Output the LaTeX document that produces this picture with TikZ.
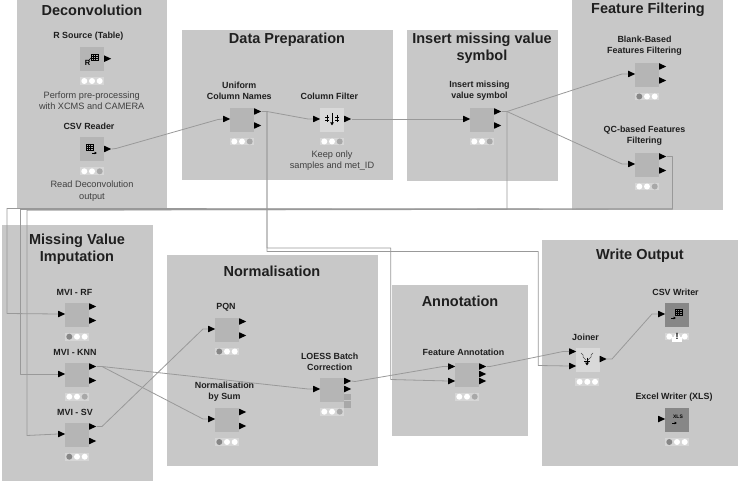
\documentclass[tikz,border=0pt]{standalone}
\usepackage{fontspec}
\setmainfont{Liberation Sans}
\usetikzlibrary{shapes.geometric,arrows.meta}
\definecolor{grp}{gray}{0.785}
\definecolor{boxc}{gray}{0.71}
\definecolor{boxl}{gray}{0.85}
\definecolor{boxd}{gray}{0.53}
\definecolor{stripc}{gray}{0.84}
\definecolor{offr}{gray}{0.53}
\definecolor{offy}{gray}{0.66}
\definecolor{conn}{gray}{0.60}
\definecolor{txt}{gray}{0.12}
\definecolor{notec}{gray}{0.25}
\tikzset{
  group/.style={fill=grp,draw=none},
  grouptitle/.style={font=\fontsize{14.5}{16.6}\selectfont\bfseries,text=txt,align=center,inner sep=0pt},
  nlabel/.style={font=\fontsize{8.9}{11.3}\selectfont\bfseries,text=txt,align=center,inner sep=0pt},
  note/.style={font=\fontsize{9.2}{11.3}\selectfont,text=notec,align=center,inner sep=0pt},
  port/.style={isosceles triangle,isosceles triangle stretches,shape border rotate=0,fill=black,draw=none,inner sep=0pt,minimum height=7pt,minimum width=6.5pt,anchor=lower side},
  knodebox/.style={draw=none,inner sep=0pt,minimum width=24pt,minimum height=24pt,anchor=north west},
  wire/.style={draw=conn,line width=0.8pt,line join=round},
}
% \knode{name}{x}{y}{fill}{colour 1}{colour 2}{colour 3}
\newcommand{\knode}[7]{%
  \node[knodebox,fill=#4] (#1) at (#2,#3) {};
  \fill[stripc] (#2,#3+30.2) rectangle (#2+24,#3+37.8);
  \fill[#5] (#2+4.3,#3+34) circle (3);
  \fill[#6] (#2+12,#3+34) circle (3);
  \fill[#7] (#2+19.7,#3+34) circle (3);
}
\newcommand{\grid}[2]{%
  \draw[line width=0.5pt,black] (#1,#2) rectangle (#1+7,#2+6)
    (#1,#2+2) -- (#1+7,#2+2) (#1,#2+4) -- (#1+7,#2+4)
    (#1+2.3,#2) -- (#1+2.3,#2+6) (#1+4.6,#2) -- (#1+4.6,#2+6);
}
\newcommand{\smallarrow}[2]{%
  \draw[line width=0.8pt,-{Latex[length=2.5pt,width=3pt]}] (#1,#2) -- (#1+5,#2);
}
\begin{document}
\begin{tikzpicture}[x=1pt,y=-1pt]
\useasboundingbox (0,0) rectangle (738,481);
\fill[white] (0,0) rectangle (738,481);
% groups
\fill[group] (17,0) rectangle (167,209);
\fill[group] (182,30) rectangle (393,180);
\fill[group] (407,30) rectangle (558,181);
\fill[group] (572,0) rectangle (723,210);
\fill[group] (2,225) rectangle (152.5,481);
\fill[group] (167,255) rectangle (377.5,466);
\fill[group] (392,285) rectangle (528,436);
\fill[group] (542,240) rectangle (738,466);
% group titles
\node[grouptitle] (t1) at (92,10) {Deconvolution};
\node[grouptitle] (t2) at (287,40) {Data Preparation};
\node[grouptitle] (t3) at (482,48) {Insert missing value\\symbol};
\node[grouptitle] (t4) at (648,10) {Feature Filtering};
\node[grouptitle] (t5) at (77,249.5) {Missing Value\\Imputation};
\node[grouptitle] (t6) at (272,271) {Normalisation};
\node[grouptitle] (t7) at (460,301) {Annotation};
\node[grouptitle] (t8) at (640,256) {Write Output};
% knodes
\knode{rsrc}{80}{47}{boxc}{white}{white}{white}
\knode{csvr}{80}{137.3}{boxc}{white}{white}{offy}
\knode{unif}{230}{107.5}{boxc}{white}{white}{offy}
\knode{colf}{320}{107.5}{boxl}{white}{white}{offy}
\knode{insm}{470}{107.5}{boxc}{white}{white}{offy}
\knode{blnk}{635}{62.5}{boxc}{offr}{white}{white}
\knode{qcfl}{635}{152.5}{boxc}{white}{white}{offy}
\knode{mvrf}{65}{302.7}{boxc}{offr}{white}{white}
\knode{mknn}{65}{362.7}{boxc}{white}{white}{offy}
\knode{mvsv}{65}{422.7}{boxc}{offr}{white}{white}
\knode{pqn}{215}{317.5}{boxc}{offr}{white}{white}
\knode{nsum}{215}{408}{boxc}{offr}{white}{white}
\knode{loes}{320}{377.7}{boxc}{white}{white}{offy}
\knode{fann}{455}{362.7}{boxc}{white}{white}{offy}
\knode{join}{575.3}{347.8}{boxl}{white}{white}{white}
\knode{cwrt}{665}{302.5}{boxd}{white}{white}{white}
\knode{xwrt}{665}{408}{boxd}{offr}{white}{white}
% LOESS extra ports
\fill[offy] (344,393.5) rectangle (351,400);
\fill[offy] (344,401) rectangle (351,408);
% warning mark on CSV Writer
\fill[white] (672,337) rectangle (682,342);
\node[inner sep=0pt,font=\fontsize{9}{9}\selectfont\bfseries] (warn) at (677,336.5) {!};
% ports
\node[port] (rsrcO) at (104,58.7) {};
\node[port] (csvrO) at (104,149) {};
\node[port] (unifI) at (223,119) {};
\node[port] (unifA) at (254,111.5) {};
\node[port] (unifB) at (254,125.5) {};
\node[port] (colfI) at (313,119) {};
\node[port] (colfO) at (344,119) {};
\node[port] (insmI) at (463,119) {};
\node[port] (insmA) at (494,111.5) {};
\node[port] (insmB) at (494,125.5) {};
\node[port] (blnkI) at (628,74) {};
\node[port] (blnkA) at (659,66.5) {};
\node[port] (blnkB) at (659,80.5) {};
\node[port] (qcflI) at (628,164) {};
\node[port] (qcflA) at (659,156.5) {};
\node[port] (qcflB) at (659,170.5) {};
\node[port] (mvrfI) at (58,314) {};
\node[port] (mvrfA) at (89,306.5) {};
\node[port] (mvrfB) at (89,320.5) {};
\node[port] (mknnI) at (58,374) {};
\node[port] (mknnA) at (89,366.5) {};
\node[port] (mknnB) at (89,380.5) {};
\node[port] (mvsvI) at (58,434) {};
\node[port] (mvsvA) at (89,426.5) {};
\node[port] (mvsvB) at (89,441) {};
\node[port] (pqnI) at (208,329) {};
\node[port] (pqnA) at (239,321.5) {};
\node[port] (pqnB) at (239,335.5) {};
\node[port] (nsumI) at (208,419) {};
\node[port] (nsumA) at (239,412) {};
\node[port] (nsumB) at (239,426) {};
\node[port] (loesI) at (313,389) {};
\node[port] (loesA) at (344,381) {};
\node[port] (loesB) at (344,389) {};
\node[port] (fannI) at (448,366.5) {};
\node[port] (fannJ) at (448,381) {};
\node[port] (fannA) at (479,366.5) {};
\node[port] (fannB) at (479,374) {};
\node[port] (fannC) at (479,381) {};
\node[port] (joinI) at (569,351.5) {};
\node[port] (joinJ) at (569,366) {};
\node[port] (joinO) at (599.5,359) {};
\node[port] (cwrtI) at (658,314) {};
\node[port] (xwrtI) at (658,419) {};
% icons
\grid{91}{54}
\draw[line width=0.6pt] (88,61) -- (91,58);
\node[inner sep=0pt,font=\fontsize{7.5}{7.5}\selectfont\bfseries] (rglyph) at (87.5,63) {R};
\grid{86}{144}
\smallarrow{92}{153}
\grid{675}{309}
\smallarrow{671}{318}
\node[inner sep=0pt,font=\fontsize{5}{5}\selectfont\bfseries] (xls) at (678,417) {XLS};
\smallarrow{672}{423}
% column filter icon
\draw[line width=0.7pt] (327,115) -- (327,122) (325,117) -- (329,117) (325,120) -- (329,120)
  (337,115) -- (337,122) (335,117) -- (339,117) (335,120) -- (339,120);
\draw[line width=0.9pt,-{Latex[length=3pt,width=4pt]}] (332,113) -- (332,125.5);
% joiner icon
\draw[line width=0.5pt,black!70] (581,353) -- (583,355) -- (583,357) -- (586,360)
  (593,353) -- (591,355) -- (591,357) -- (588,360);
\draw[line width=1pt,-{Latex[length=3pt,width=4.5pt]}] (587,357.5) -- (587,365.5);
\draw[line width=1pt] (584,361) -- (590,361);
% labels
\node[nlabel] (l1) at (88.3,36.5) {R Source (Table)};
\node[note] (l2) at (91.7,100.5) {Perform pre-processing\\with XCMS and CAMERA};
\node[nlabel] (l3) at (89,126.5) {CSV Reader};
\node[note] (l4) at (92,191) {Read Deconvolution\\output};
\node[nlabel] (l5) at (239.3,91) {Uniform\\Column Names};
\node[nlabel] (l6) at (329.3,96.7) {Column Filter};
\node[note] (l7) at (332,160.5) {Keep only\\samples and met\_ID};
\node[nlabel] (l8) at (479.5,91) {Insert missing\\value symbol};
\node[nlabel] (l9) at (644.5,46) {Blank-Based\\Features Filtering};
\node[nlabel] (l10) at (644.5,136) {QC-based Features\\Filtering};
\node[nlabel] (l11) at (74.5,292.5) {MVI - RF};
\node[nlabel] (l12) at (75,352) {MVI - KNN};
\node[nlabel] (l13) at (75,412.5) {MVI - SV};
\node[nlabel] (l14) at (226,307) {PQN};
\node[nlabel] (l15) at (224.5,391.5) {Normalisation\\by Sum};
\node[nlabel] (l16) at (329.7,361.5) {LOESS Batch\\Correction};
\node[nlabel] (l17) at (463.5,352) {Feature Annotation};
\node[nlabel] (l18) at (585.5,337) {Joiner};
\node[nlabel] (l19) at (675.5,292) {CSV Writer};
\node[nlabel] (l20) at (674,397) {Excel Writer (XLS)};
% bend points
\coordinate (csvB) at (116,148.5);
\coordinate (unifH) at (267,111.5);
\coordinate (unifF) at (267,248);
\coordinate (unifG) at (267,251.5);
\coordinate (annA) at (390.7,248);
\coordinate (annB) at (390.7,379.5);
\coordinate (joiA) at (538.3,251.5);
\coordinate (joiB) at (538.3,365.5);
\coordinate (insH) at (507,111.5);
\coordinate (insD) at (507,209.5);
\coordinate (qcH) at (672.5,156.5);
\coordinate (qcD) at (672.5,209);
\coordinate (busA) at (7,208.5);
\coordinate (busB) at (20,209.5);
\coordinate (busC) at (27,210);
\coordinate (rfA) at (7,313.5);
\coordinate (knA) at (20,374);
\coordinate (svA) at (27,435.5);
\coordinate (knH) at (102,366.5);
\coordinate (svH) at (102,426.5);
\coordinate (loH) at (355,381.5);
\coordinate (faH) at (490,366.5);
\coordinate (joH) at (612,359);
% connectors
\draw[wire] (csvrO.apex) -- (csvB) -- (218,119.5) -- (unifI.lower side);
\draw[wire] (unifA.apex) -- (unifH) -- (308,119) -- (colfI.lower side);
\draw[wire] (colfO.apex) -- (insmI.lower side);
\draw[wire] (unifH) -- (unifF) -- (annA) -- (annB) -- (fannJ.lower side);
\draw[wire] (unifH) -- (unifG) -- (joiA) -- (joiB) -- (joinJ.lower side);
\draw[wire] (insmA.apex) -- (insH) -- (622,74) -- (blnkI.lower side);
\draw[wire] (insH) -- (622,164) -- (qcflI.lower side);
\draw[wire] (insH) -- (insD) -- (busA) -- (rfA) -- (mvrfI.lower side);
\draw[wire] (insD) -- (busB) -- (knA) -- (mknnI.lower side);
\draw[wire] (insD) -- (busC) -- (svA) -- (mvsvI.lower side);
\draw[wire] (qcflA.apex) -- (qcH) -- (qcD) -- (busA);
\draw[wire] (qcD) -- (busB);
\draw[wire] (qcD) -- (busC);
\draw[wire] (mknnA.apex) -- (knH) -- (308,389) -- (loesI.lower side);
\draw[wire] (knH) -- (203,419) -- (nsumI.lower side);
\draw[wire] (mvsvA.apex) -- (svH) -- (203,329) -- (pqnI.lower side);
\draw[wire] (loesA.apex) -- (loH) -- (443,366.5) -- (fannI.lower side);
\draw[wire] (fannA.apex) -- (faH) -- (563,351.5) -- (joinI.lower side);
\draw[wire] (joinO.apex) -- (joH) -- (652,314) -- (cwrtI.lower side);
\end{tikzpicture}
\end{document}
